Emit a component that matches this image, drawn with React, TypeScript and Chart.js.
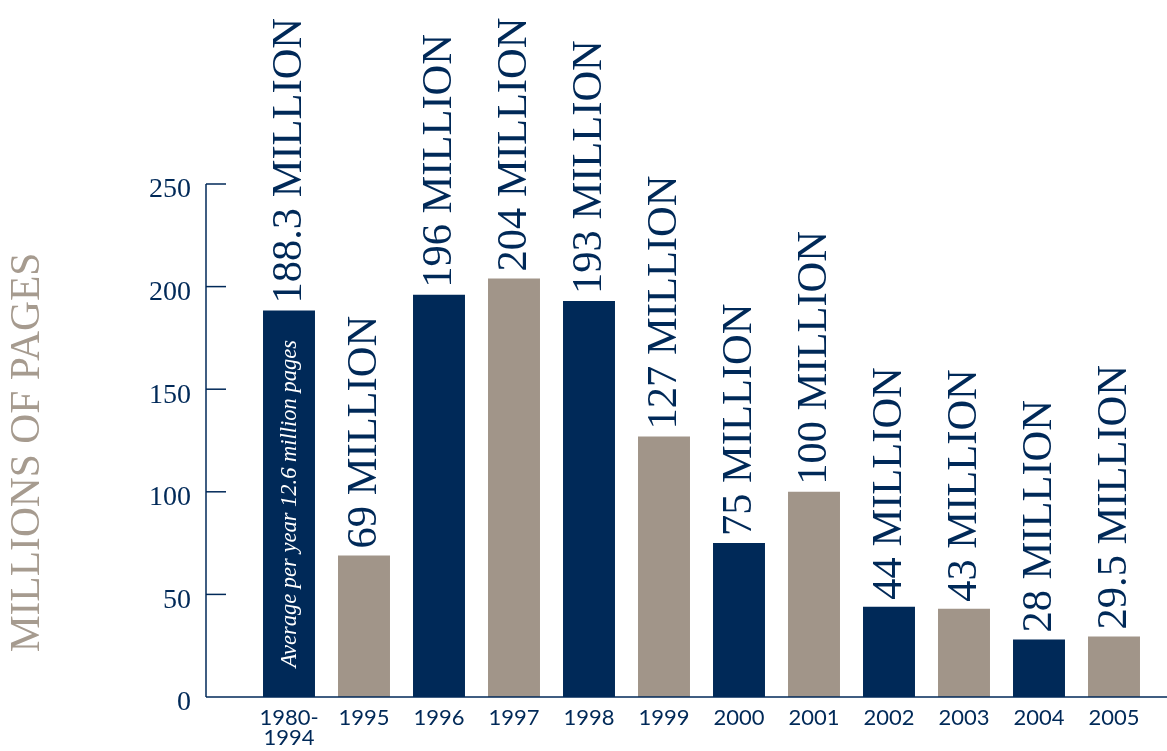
import React, { useEffect, useRef } from "react";
import { Chart, registerables } from "chart.js";

Chart.register(...registerables);

const categories: (string | string[])[] = [
  ["1980-", "1994"], "1995", "1996", "1997", "1998", "1999",
  "2000", "2001", "2002", "2003", "2004", "2005",
];
const pages: number[] = [188.3, 69, 196, 204, 193, 127, 75, 100, 44, 43, 28, 29.5];
const valueLabels: string[] = [
  "188.3 MILLION", "69 MILLION", "196 MILLION", "204 MILLION", "193 MILLION",
  "127 MILLION", "75 MILLION", "100 MILLION", "44 MILLION", "43 MILLION",
  "28 MILLION", "29.5 MILLION",
];
const yTicks: number[] = [0, 50, 100, 150, 200, 250];
const yTitle = "MILLIONS OF PAGES";
const firstBarNote = "Average per year 12.6 million pages";

const NAVY = "#002958";
const TAUPE = "#A19589";
const barColors = pages.map((_, i) => (i % 2 === 0 ? NAVY : TAUPE));

const overlayPlugin = {
  id: "overlay",
  afterDatasetsDraw(chart: any) {
    const { ctx, chartArea, scales } = chart;
    const y = scales.y;
    const axisX = chartArea.left - 45.5;
    ctx.save();
    ctx.strokeStyle = NAVY;
    ctx.lineWidth = 1.5;
    ctx.beginPath();
    ctx.moveTo(axisX, y.getPixelForValue(250));
    ctx.lineTo(axisX, chartArea.bottom);
    ctx.stroke();
    yTicks.forEach((v) => {
      const py = y.getPixelForValue(v);
      if (v > 0) {
        ctx.beginPath();
        ctx.moveTo(axisX, py);
        ctx.lineTo(axisX + 20, py);
        ctx.stroke();
      }
    });
    ctx.beginPath();
    ctx.moveTo(axisX, chartArea.bottom);
    ctx.lineTo(chart.width, chartArea.bottom);
    ctx.stroke();

    ctx.fillStyle = NAVY;
    ctx.font = '28px "Liberation Serif"';
    ctx.textAlign = "right";
    ctx.textBaseline = "middle";
    yTicks.forEach((v) => {
      ctx.fillText(String(v), axisX - 15, y.getPixelForValue(v) + 6);
    });

    ctx.save();
    ctx.translate(28, (chartArea.top + chartArea.bottom) / 2 + 12);
    ctx.rotate(-Math.PI / 2);
    ctx.fillStyle = "#A69B8F";
    ctx.font = '41.5px "Liberation Serif"';
    ctx.textAlign = "center";
    ctx.textBaseline = "middle";
    ctx.fillText(yTitle, 0, 0);
    ctx.restore();

    const meta = chart.getDatasetMeta(0);
    meta.data.forEach((bar: any, i: number) => {
      ctx.save();
      ctx.translate(bar.x, bar.y - 7);
      ctx.rotate(-Math.PI / 2);
      ctx.fillStyle = NAVY;
      ctx.font = '42.5px "Liberation Serif"';
      ctx.textAlign = "left";
      ctx.textBaseline = "middle";
      ctx.fillText(valueLabels[i], 0, 1);
      ctx.restore();
    });

    const b0 = meta.data[0];
    ctx.save();
    ctx.translate(b0.x, (b0.y + b0.base) / 2);
    ctx.rotate(-Math.PI / 2);
    ctx.fillStyle = "#FFFFFF";
    ctx.font = 'italic 22.5px "Liberation Serif"';
    ctx.textAlign = "center";
    ctx.textBaseline = "middle";
    ctx.fillText(firstBarNote, 0, 1);
    ctx.restore();

    ctx.restore();
  },
};

export default function App() {
  const ref = useRef<HTMLCanvasElement | null>(null);
  useEffect(() => {
    if (!ref.current) return;
    const chart = new Chart(ref.current, {
      type: "bar",
      data: {
        labels: categories,
        datasets: [
          {
            data: pages,
            backgroundColor: barColors,
            borderWidth: 0,
            barPercentage: 0.693,
            categoryPercentage: 1,
          },
        ],
      },
      options: {
        animation: false,
        responsive: false,
        maintainAspectRatio: false,
        devicePixelRatio: 1,
        layout: { padding: { top: 184, right: 15.5, left: 0, bottom: 0 } },
        plugins: { legend: { display: false }, tooltip: { enabled: false } },
        scales: {
          x: {
            grid: { display: false, drawTicks: false },
            border: { display: false },
            ticks: {
              color: NAVY,
              font: { family: "Lato", size: 22, lineHeight: 0.92 },
              padding: 11,
              maxRotation: 0,
              autoSkip: false,
            },
            afterFit: (s: any) => {
              s.height = 54;
            },
          },
          y: {
            min: 0,
            max: 250,
            grid: { display: false, drawTicks: false },
            border: { display: false },
            ticks: { display: false, stepSize: 50 },
            afterFit: (s: any) => {
              s.width = 251.5;
            },
          },
        },
      },
      plugins: [overlayPlugin],
    });
    return () => chart.destroy();
  }, []);
  return (
    <div style={{ position: "absolute", left: 0, top: 0, width: 1167, height: 751, background: "#fff" }}>
      <canvas ref={ref} width={1167} height={751} style={{ width: 1167, height: 751 }} />
    </div>
  );
}
